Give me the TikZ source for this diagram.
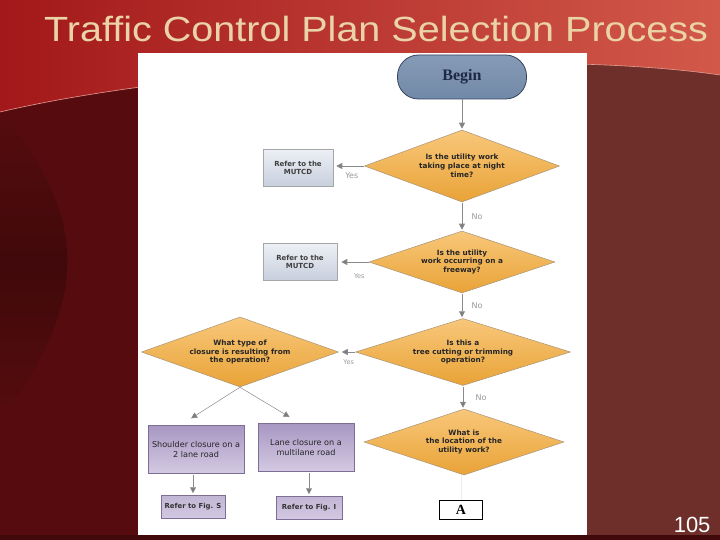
\documentclass[tikz,border=0pt]{standalone}
\usepackage{fontspec}
\setmainfont{Liberation Sans}
\newfontfamily\chartfont{DejaVu Sans}
\newfontfamily\headfont{Liberation Serif}
\usetikzlibrary{positioning,shapes.geometric,arrows.meta}

\definecolor{slidedark}{HTML}{560C0E}
\definecolor{slidered}{HTML}{A3181A}
\definecolor{slideglow}{HTML}{D2594A}
\definecolor{slidebrown}{HTML}{8A5C52}
\definecolor{slidemaroon}{HTML}{6E2E2A}
\definecolor{titletan}{HTML}{EAD3A6}
\definecolor{beginblue}{HTML}{7189A8}
\definecolor{beginedge}{HTML}{34435C}
\definecolor{beginink}{HTML}{1E2A45}
\definecolor{qtop}{HTML}{F8C77A}
\definecolor{qbottom}{HTML}{E9A337}
\definecolor{qedge}{HTML}{A89478}
\definecolor{refertop}{HTML}{ECEFF5}
\definecolor{referbottom}{HTML}{C8CFDD}
\definecolor{lilactop}{HTML}{A797C2}
\definecolor{lilacbottom}{HTML}{D3C9E2}
\definecolor{lilacedge}{HTML}{7D6E95}
\definecolor{flowgray}{HTML}{8A8A8A}

\tikzset{
  question/.style n args={2}{diamond, aspect=2.8, draw=qedge, line width=0.5pt,
    top color=qtop, bottom color=qbottom, minimum width=#1, minimum height=#2,
    inner sep=0pt, align=center, font=\chartfont\bfseries\fontsize{7.3}{8.8}\selectfont,
    text=black!85},
  referbox/.style={rectangle, draw=gray!70, line width=0.5pt,
    top color=refertop, bottom color=referbottom, minimum width=70pt,
    minimum height=37pt, align=center,
    font=\chartfont\bfseries\fontsize{7}{8.5}\selectfont, text=black!75},
  closurebox/.style={rectangle, draw=lilacedge, line width=0.5pt,
    top color=lilactop, bottom color=lilacbottom, minimum width=96pt,
    minimum height=48pt, align=center,
    font=\chartfont\fontsize{8.1}{10}\selectfont, text=black!85},
  figbox/.style={rectangle, draw=lilacedge, line width=0.5pt,
    top color=lilactop!70!white, bottom color=lilacbottom, minimum width=64pt,
    minimum height=23pt, inner sep=1pt, font=\chartfont\bfseries\fontsize{6.9}{8}\selectfont,
    text=black!80},
  flow/.style={draw=flowgray, line width=0.8pt,
    -{Triangle[width=6pt,length=6pt,fill=flowgray!90!black]}},
  answer/.style={font=\chartfont\fontsize{8}{9}\selectfont, text=gray!80},
}

\begin{document}
\begin{tikzpicture}[x=1pt, y=-1pt]

  % Fix the slide size
  \useasboundingbox (0,0) rectangle (720,540);

  % Slide background
  \fill[slidedark] (0,0) rectangle (720,540);
  \shade[left color=slidedark, right color=slidebrown] (380,60) rectangle (587,540);
  \shade[top color=slidemaroon, middle color=slidebrown, bottom color=slidemaroon]
    (587,60) rectangle (720,540);
  \shade[top color=slidedark, bottom color=slidedark, middle color=slidedark!75!black]
    (0,110) .. controls (90,220) and (90,300) .. (0,420) -- cycle;
  \fill[slidedark!75!black] (0,535) rectangle (720,540);
  % Bright top band with its thin light edge
  \shade[left color=slidered, right color=slideglow]
    (0,0) -- (720,0) -- (720,75) .. controls (550,50) and (200,65) .. (0,112) -- cycle;
  \draw[slideglow!60!white, line width=0.6pt]
    (720,75) .. controls (550,50) and (200,65) .. (0,112);

  % Title and page number
  \node[anchor=base west, text=titletan, inner sep=0pt, xscale=1.13,
    font=\fontsize{35}{38}\selectfont]
    (title) at (44,42) {Traffic Control Plan Selection Process};
  \node[anchor=base east, text=white, font=\fontsize{22}{24}\selectfont]
    (pagenum) at (714,532) {105};

  % White panel for the chart
  \fill[white] (138,53) rectangle (587,535);

  % Start of the process
  \node[rectangle, rounded corners=21pt, draw=beginedge, line width=0.8pt,
    top color=beginblue!85!white, bottom color=beginblue, minimum width=129pt,
    minimum height=44pt, text=beginink, font=\headfont\bfseries\fontsize{16}{18}\selectfont]
    (begin) at (462,77) {Begin};

  % Questions
  \node[question={195pt}{72pt}] (night) at (462,166)
    {Is the utility work\\taking place at night\\time?};
  \node[question={186pt}{62pt}] (freeway) at (462,262)
    {Is the utility\\work occurring on a\\freeway?};
  \node[question={215pt}{67pt}] (trees) at (463,352)
    {Is this a\\tree cutting or trimming\\operation?};
  \node[question={197pt}{70pt}] (closure) at (240,352)
    {What type of\\closure is resulting from\\the operation?};
  \node[question={200pt}{66pt}] (location) at (464,442)
    {What is\\the location of the\\utility work?};

  % Refer to the MUTCD
  \node[referbox] (mutcdA) at (298,168) {Refer to the\\MUTCD};
  \node[referbox, minimum width=74pt] (mutcdB) at (300,262) {Refer to the\\MUTCD};

  % Closure types and the figures
  \node[closurebox] (shoulder) at (196,449) {Shoulder closure on a\\2 lane road};
  \node[closurebox] (multilane) at (306,447) {Lane closure on a\\multilane road};
  \node[figbox] (figS) at (193,507) {Refer to Fig. S};
  \node[figbox, minimum width=66pt] (figI) at (309,508) {Refer to Fig. I};

  % Connector box A
  \node[rectangle, draw=black, line width=0.6pt, minimum width=43pt, minimum height=19pt,
    inner sep=0pt, font=\headfont\bfseries\fontsize{14}{14}\selectfont] (connA) at (461,510) {A};

  % Arrows down the main column
  \draw[flow, shorten >=1pt] (begin.south) -- (night.north);
  \draw[flow, shorten <=1pt, shorten >=1pt] (night.south) -- (freeway.north)
    node[answer, midway, right=6pt] (noA) {No};
  \draw[flow, shorten <=1pt, shorten >=1pt] (freeway.south) -- (freeway.south |- trees.north)
    node[answer, midway, right=6pt] (noB) {No};
  \draw[flow, shorten <=1pt, shorten >=1pt] (trees.south) -- (trees.south |- location.north)
    node[answer, midway, right=9pt] (noC) {No};
  \draw[gray!15, line width=0.5pt] (connA.north |- location.south) -- (connA.north);

  % Yes branches to the left
  \draw[flow, shorten >=3pt] (night.west) -- (night.west -| mutcdA.east)
    node[answer, pos=0.4, below=3pt] (yesA) {Yes};
  \draw[flow, shorten >=4pt] (freeway.west) -- (freeway.west -| mutcdB.east)
    node[answer, pos=0.3, below=8pt, font=\chartfont\fontsize{6.5}{7}\selectfont] (yesB) {Yes};
  \draw[flow, shorten >=3pt] (trees.west) -- (closure.east)
    node[answer, pos=0.4, below=4pt, font=\chartfont\fontsize{6.5}{7}\selectfont] (yesC) {Yes};

  % Closure types
  \draw[flow, line width=0.5pt, shorten >=12pt] (closure.south) -- ([xshift=-15pt]shoulder.north);
  \draw[flow, line width=0.5pt, shorten >=11pt] (closure.south) -- ([xshift=-7pt]multilane.north);
  \draw[flow, shorten <=2pt, shorten >=2pt] (shoulder.south -| figS) -- (figS.north);
  \draw[flow, shorten <=2pt, shorten >=2pt] (multilane.south -| figI) -- (figI.north);

\end{tikzpicture}
\end{document}
